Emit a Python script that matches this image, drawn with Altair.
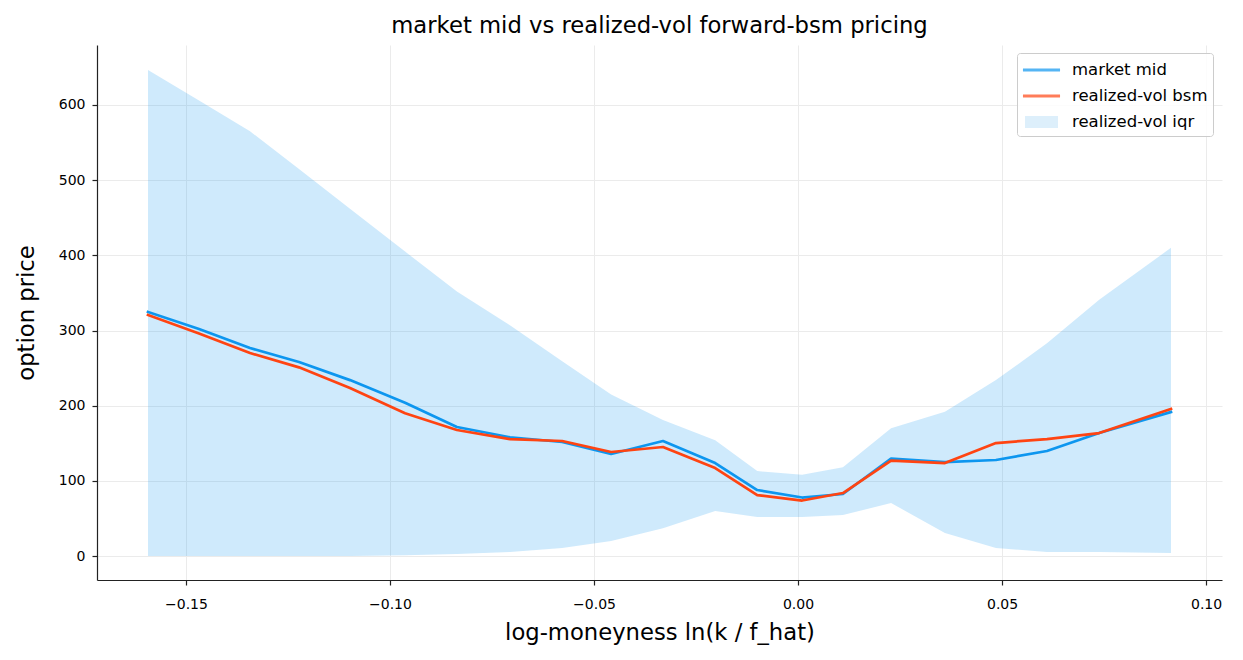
import altair as alt
import pandas as pd

# ---- data ----
x_vals = [-0.1593, -0.1468, -0.1343, -0.1223, -0.1098, -0.0963, -0.0836, -0.0706,
          -0.0578, -0.0458, -0.0331, -0.0203, -0.0100, 0.0010, 0.0110, 0.0228,
          0.0360, 0.0485, 0.0610, 0.0738, 0.0914]
market_mid = [324.6, 302.0, 276.7, 258.0, 234.0, 204.0, 171.6, 158.0, 151.7, 135.7,
              153.0, 123.7, 87.8, 77.8, 82.5, 129.7, 125.0, 127.7, 139.7, 163.6, 191.6]
rv_bsm = [320.6, 296.0, 270.0, 251.0, 223.5, 190.0, 167.6, 155.6, 153.0, 138.4,
          145.0, 117.0, 81.1, 73.8, 83.8, 127.0, 123.7, 150.3, 155.6, 163.6, 195.6]
iqr_lo = [0.0, 0.0, 0.0, 0.0, 0.0, 1.0, 2.7, 5.3, 10.6, 20.0,
          37.0, 60.0, 52.0, 52.0, 54.5, 70.5, 30.6, 10.6, 5.3, 5.3, 4.0]
iqr_hi = [646.5, 606.0, 565.0, 515.0, 462.0, 405.0, 352.0, 307.0, 259.0, 215.0,
          181.0, 154.0, 113.0, 108.0, 118.0, 170.0, 192.0, 234.0, 283.0, 341.0, 410.0]

series_names = ["market mid", "realized-vol bsm", "realized-vol iqr"]
x_ticks = [-0.15, -0.10, -0.05, 0.0, 0.05, 0.10]
y_ticks = [0, 100, 200, 300, 400, 500, 600]

BLUE = "#0d96ef"
RED = "#ff4412"
BAND = "#cfe8fa"
FONT = "DejaVu Sans"

mid_df = pd.DataFrame({"x": x_vals, "price": market_mid})
bsm_df = pd.DataFrame({"x": x_vals, "price": rv_bsm})
band_df = pd.DataFrame({"x": x_vals, "lo": iqr_lo, "hi": iqr_hi})
legend_df = pd.DataFrame({"series": series_names})

# legend swatches: thin bar for the lines, taller box for the iqr band
LINE_PATH = "M-0.92,-0.12H2.17V0.12H-0.92Z"
RECT_PATH = "M-0.75,-0.5H2V0.5H-0.75Z"

xs = alt.Scale(domain=[-0.1718, 0.1039], nice=False, zero=False)
ys = alt.Scale(domain=[-31.9, 679.8], nice=False, zero=False)

x_axis = alt.Axis(values=x_ticks, format=".2f", labelFlush=False, labelOverlap=False,
                  labelPadding=12, titlePadding=10)
y_axis = alt.Axis(values=y_ticks, format="d", labelPadding=7, titlePadding=20)
X_TITLE = "log-moneyness ln(k / f_hat)"
Y_TITLE = "option price"

legend = alt.Legend(
    title=None, orient="none", legendX=920, legendY=8, padding=5,
    symbolSize=576, labelOffset=26, rowPadding=5,
    symbolStrokeWidth=0, symbolStrokeColor="transparent",
    labelFont=FONT, labelFontSize=16.5, labelColor="#000000",
    strokeColor="#cccccc", fillColor="rgba(255,255,255,0.85)", cornerRadius=3,
)

band = alt.Chart(band_df).mark_area(color=BLUE, opacity=0.2, interpolate="linear").encode(
    x=alt.X("x:Q", scale=xs, axis=x_axis, title=X_TITLE),
    y=alt.Y("hi:Q", scale=ys, axis=y_axis, title=Y_TITLE),
    y2="lo:Q",
)

line_mid = alt.Chart(mid_df).mark_line(color=BLUE, strokeWidth=2.7, strokeCap="square",
                                       strokeJoin="round").encode(
    x=alt.X("x:Q", scale=xs, axis=x_axis, title=X_TITLE),
    y=alt.Y("price:Q", scale=ys, axis=y_axis, title=Y_TITLE),
)

line_bsm = alt.Chart(bsm_df).mark_line(color=RED, strokeWidth=2.7, strokeCap="square",
                                       strokeJoin="round").encode(
    x=alt.X("x:Q", scale=xs, axis=x_axis, title=X_TITLE),
    y=alt.Y("price:Q", scale=ys, axis=y_axis, title=Y_TITLE),
)

# legend-only layer: draws nothing, provides the combined color/shape legend
legend_layer = alt.Chart(legend_df).transform_filter("false").mark_point(filled=True).encode(
    color=alt.Color("series:N", scale=alt.Scale(domain=series_names, range=[BLUE, RED, BAND]),
                    legend=legend),
    shape=alt.Shape("series:N", scale=alt.Scale(domain=series_names,
                                                range=[LINE_PATH, LINE_PATH, RECT_PATH]),
                    legend=legend),
)

chart = alt.layer(band, line_mid, line_bsm, legend_layer).properties(
    width=1125,
    height=535,
    background="white",
    autosize=alt.AutoSizeParams(type="none"),
    padding={"left": 89, "top": 37, "right": 13, "bottom": 68},
    title=alt.TitleParams(
        "market mid vs realized-vol forward-bsm pricing",
        font=FONT, fontSize=22.7, fontWeight="normal", color="#000000",
        anchor="middle", offset=7,
    ),
).configure_view(stroke=None).configure_axis(
    grid=True, gridColor="#ebebeb", gridWidth=1,
    domainColor="#222222", domainWidth=1.2,
    tickColor="#222222", tickWidth=1.2, tickSize=5,
    labelFont=FONT, labelFontSize=14, labelColor="#000000",
    titleFont=FONT, titleFontSize=22.7, titleFontWeight="normal", titleColor="#000000",
)

chart.save("out.html", embed_options={"renderer": "svg", "actions": False})
